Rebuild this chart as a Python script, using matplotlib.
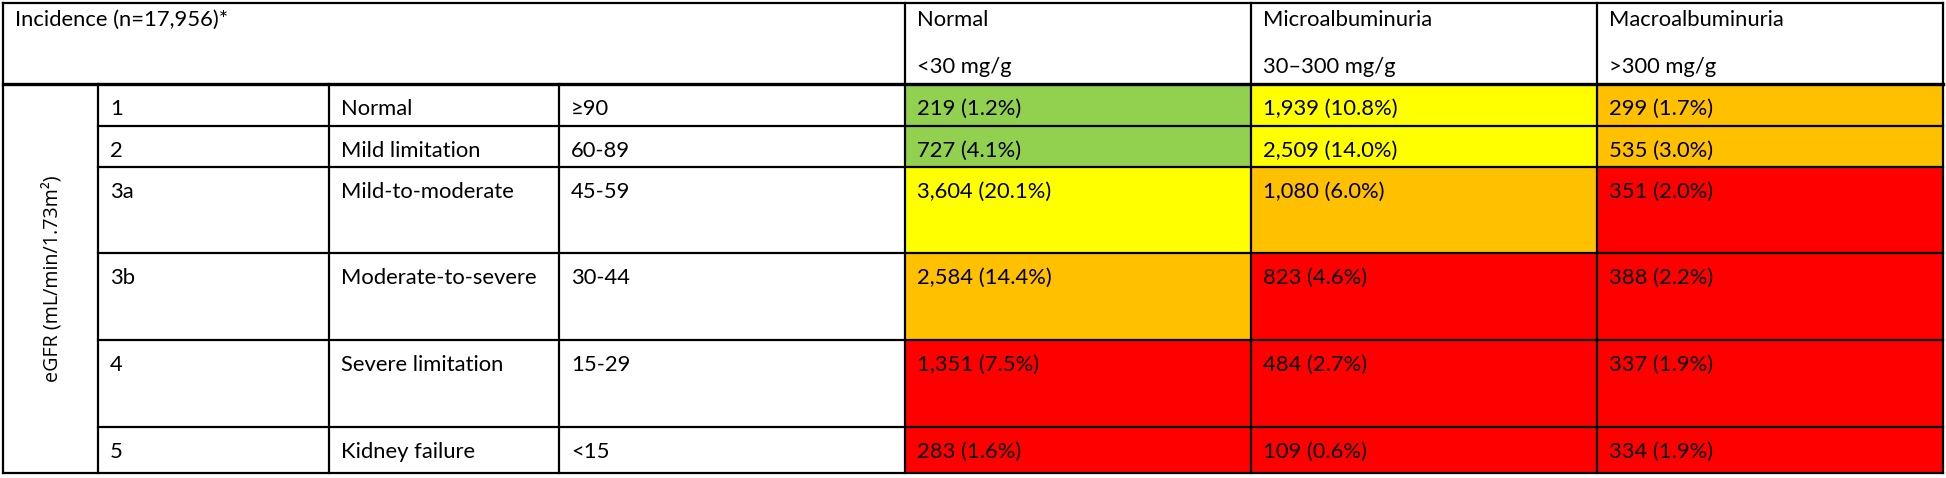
import matplotlib
matplotlib.use("Agg")
import matplotlib.pyplot as plt
from matplotlib.patches import Rectangle
from matplotlib.lines import Line2D

# ---------------- data ----------------
title = "Incidence (n=17,956)*"
axis_label = "eGFR (mL/min/1.73m²)"
albumin_categories = ["Normal", "Microalbuminuria", "Macroalbuminuria"]
albumin_ranges = ["<30 mg/g", "30–300 mg/g", ">300 mg/g"]
stages = ["1", "2", "3a", "3b", "4", "5"]
stage_names = ["Normal", "Mild limitation", "Mild-to-moderate",
               "Moderate-to-severe", "Severe limitation", "Kidney failure"]
egfr_ranges = ["≥90", "60-89", "45-59", "30-44", "15-29", "<15"]

counts_normal = [219, 727, 3604, 2584, 1351, 283]
counts_micro = [1939, 2509, 1080, 823, 484, 109]
counts_macro = [299, 535, 351, 388, 337, 334]
pct_normal = [1.2, 4.1, 20.1, 14.4, 7.5, 1.6]
pct_micro = [10.8, 14.0, 6.0, 4.6, 2.7, 0.6]
pct_macro = [1.7, 3.0, 2.0, 2.2, 1.9, 1.9]

risk_normal = ["low", "low", "moderate", "high", "very high", "very high"]
risk_micro = ["moderate", "moderate", "high", "very high", "very high", "very high"]
risk_macro = ["high", "high", "very high", "very high", "very high", "very high"]

risk_colors = {"low": "#92D050", "moderate": "#FFFF00",
               "high": "#FFC000", "very high": "#FF0000"}

# ---------------- layout (pixels) ----------------
W, H = 1946, 478
col_edges = [3, 98, 329, 559, 905, 1251, 1597, 1943]
row_edges = [3, 84, 126, 167, 253, 340, 427, 473]
pad_x = 12
text_dy = 25
body_font = "Lato"
body_size = 15.8
lw = 1.6
lw_thick = 2.4

fig = plt.figure(figsize=(W / 100, H / 100), dpi=100)
ax = fig.add_axes([0, 0, 1, 1])
ax.set_xlim(0, W)
ax.set_ylim(H, 0)
ax.axis("off")

# cell fills
value_cols = [(counts_normal, pct_normal, risk_normal),
              (counts_micro, pct_micro, risk_micro),
              (counts_macro, pct_macro, risk_macro)]
for j, (cnts, pcts, risks) in enumerate(value_cols):
    x0, x1 = col_edges[4 + j], col_edges[5 + j]
    for i in range(len(stages)):
        y0, y1 = row_edges[1 + i], row_edges[2 + i]
        ax.add_patch(Rectangle((x0, y0), x1 - x0, y1 - y0,
                               facecolor=risk_colors[risks[i]], edgecolor="none", zorder=1))
        ax.text(x0 + pad_x, y0 + text_dy, f"{cnts[i]:,} ({pcts[i]:.1f}%)",
                ha="left", va="center", fontsize=body_size, family=body_font, zorder=3)

# header texts
ax.text(col_edges[0] + pad_x, row_edges[0] + 17, title, ha="left", va="center",
        fontsize=body_size, family=body_font, zorder=3)
for j in range(3):
    x0 = col_edges[4 + j] + pad_x
    ax.text(x0, row_edges[0] + 17, albumin_categories[j], ha="left", va="center",
            fontsize=body_size, family=body_font, zorder=3)
    ax.text(x0, row_edges[0] + 64, albumin_ranges[j], ha="left", va="center",
            fontsize=body_size, family=body_font, zorder=3)

# row label texts
for i in range(len(stages)):
    y = row_edges[1 + i] + text_dy
    for k, lab in enumerate([stages[i], stage_names[i], egfr_ranges[i]]):
        ax.text(col_edges[1 + k] + pad_x, y, lab, ha="left", va="center",
                fontsize=body_size, family=body_font, zorder=3)

# rotated axis label
ax.text((col_edges[0] + col_edges[1]) / 2 + 2, (row_edges[1] + row_edges[-1]) / 2,
        axis_label, rotation=90, ha="center", va="center",
        fontsize=14.2, family="Open Sans", zorder=3)

# grid lines
def hline(y, xa, xb, w=lw):
    ax.add_line(Line2D([xa, xb], [y, y], color="black", lw=w, zorder=4,
                       solid_capstyle="projecting"))

def vline(x, ya, yb, w=lw):
    ax.add_line(Line2D([x, x], [ya, yb], color="black", lw=w, zorder=4,
                       solid_capstyle="projecting"))

hline(row_edges[0], col_edges[0], col_edges[-1])
hline(row_edges[-1], col_edges[0], col_edges[-1])
hline(row_edges[1], col_edges[0], col_edges[-1], lw_thick)
for y in row_edges[2:-1]:
    hline(y, col_edges[1], col_edges[-1])
vline(col_edges[0], row_edges[0], row_edges[-1])
vline(col_edges[-1], row_edges[0], row_edges[-1])
for x in col_edges[1:4]:
    vline(x, row_edges[1], row_edges[-1])
for x in col_edges[4:-1]:
    vline(x, row_edges[0], row_edges[-1])

fig.savefig("out.png", dpi=100, facecolor="white")
